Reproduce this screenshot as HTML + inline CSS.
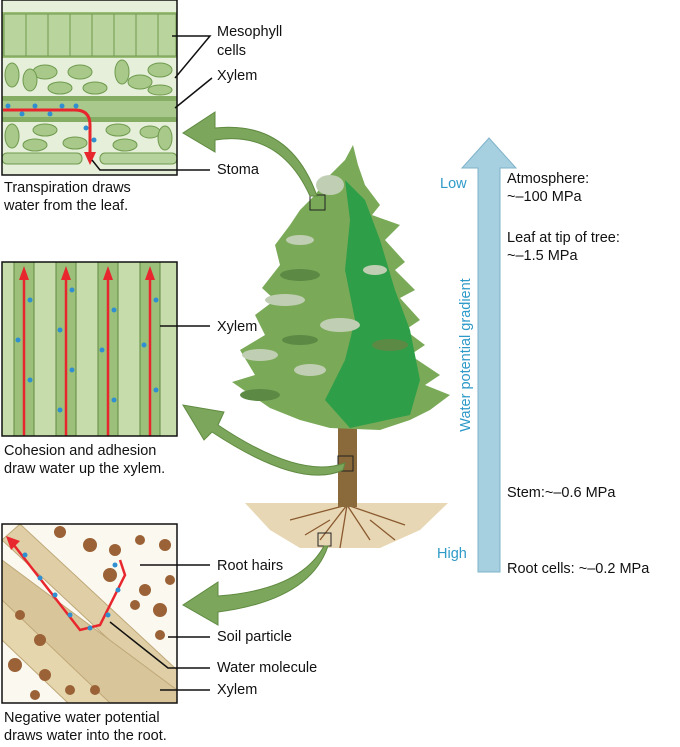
<!DOCTYPE html>
<html><head><style>
body{margin:0;background:#fff}
svg text{font-family:"Liberation Sans",sans-serif;font-size:14.5px;fill:#111}
</style></head><body>
<svg width="680" height="742" viewBox="0 0 680 742" xmlns="http://www.w3.org/2000/svg">
<!-- top panel -->
<rect x="2" y="0" width="175" height="175" fill="#e6efd9"/>
<rect x="2" y="12" width="175" height="46" fill="#9cbf78"/>
<g fill="#b9d49c" stroke="#6f9a4e">
<rect x="4" y="14" width="22" height="42"/><rect x="26" y="14" width="22" height="42"/><rect x="48" y="14" width="22" height="42"/><rect x="70" y="14" width="22" height="42"/><rect x="92" y="14" width="22" height="42"/><rect x="114" y="14" width="22" height="42"/><rect x="136" y="14" width="22" height="42"/><rect x="158" y="14" width="18" height="42"/>
</g>
<g fill="#a8c98a" stroke="#6f9a4e">
<ellipse cx="12" cy="75" rx="7" ry="12"/><ellipse cx="45" cy="72" rx="12" ry="7"/><ellipse cx="80" cy="72" rx="12" ry="7"/><ellipse cx="122" cy="72" rx="7" ry="12"/><ellipse cx="160" cy="70" rx="12" ry="7"/><ellipse cx="30" cy="80" rx="7" ry="11"/><ellipse cx="60" cy="88" rx="12" ry="6"/><ellipse cx="95" cy="88" rx="12" ry="6"/><ellipse cx="140" cy="82" rx="12" ry="7"/><ellipse cx="160" cy="90" rx="12" ry="5"/>
<ellipse cx="12" cy="136" rx="7" ry="12"/><ellipse cx="45" cy="130" rx="12" ry="6"/><ellipse cx="35" cy="145" rx="12" ry="6"/><ellipse cx="75" cy="143" rx="12" ry="6"/><ellipse cx="118" cy="130" rx="12" ry="6"/><ellipse cx="125" cy="145" rx="12" ry="6"/><ellipse cx="150" cy="132" rx="10" ry="6"/><ellipse cx="165" cy="138" rx="7" ry="12"/>
</g>
<rect x="2" y="96" width="175" height="26" fill="#86ad64"/>
<rect x="2" y="101" width="175" height="16" fill="#a9c98c"/>
<g fill="#b6d29d" stroke="#6f9a4e"><rect x="2" y="153" width="80" height="11" rx="5"/><rect x="100" y="153" width="77" height="11" rx="5"/></g>
<path d="M3 110 H75 Q90 110 90 125 V155" stroke="#e8262d" stroke-width="3" fill="none"/>
<path d="M84 152 L90 165 L96 152Z" fill="#e8262d"/>
<g fill="#2f8fd0"><circle cx="8" cy="106" r="2.5"/><circle cx="22" cy="114" r="2.5"/><circle cx="35" cy="106" r="2.5"/><circle cx="50" cy="114" r="2.5"/><circle cx="62" cy="106" r="2.5"/><circle cx="76" cy="106" r="2.5"/><circle cx="86" cy="128" r="2.5"/><circle cx="94" cy="140" r="2.5"/></g>
<rect x="2" y="0" width="175" height="175" fill="none" stroke="#111" stroke-width="1.5"/>
<g stroke="#111" stroke-width="1.5" fill="none"><path d="M172 36 H198 M175 78 L210 36 H198"/><path d="M175 108 L212 78"/><path d="M92 160 L100 170 H210"/></g>
<text x="217" y="36">Mesophyll</text><text x="217" y="55">cells</text><text x="217" y="80">Xylem</text><text x="217" y="174">Stoma</text>
<text x="4" y="192">Transpiration draws</text><text x="4" y="210">water from the leaf.</text>

<!-- middle panel -->
<rect x="2" y="262" width="175" height="174" fill="#c6dcaa"/>
<g fill="#9cc07a" stroke="#5f8a40"><rect x="14" y="262" width="20" height="174"/><rect x="56" y="262" width="20" height="174"/><rect x="98" y="262" width="20" height="174"/><rect x="140" y="262" width="20" height="174"/></g>
<g stroke="#e8262d" stroke-width="2.5"><path d="M24 436 V275"/><path d="M66 436 V275"/><path d="M108 436 V275"/><path d="M150 436 V275"/></g>
<g fill="#e8262d"><path d="M19 280 L24 266 L29 280Z"/><path d="M61 280 L66 266 L71 280Z"/><path d="M103 280 L108 266 L113 280Z"/><path d="M145 280 L150 266 L155 280Z"/></g>
<g fill="#2f8fd0"><circle cx="30" cy="300" r="2.5"/><circle cx="18" cy="340" r="2.5"/><circle cx="30" cy="380" r="2.5"/><circle cx="72" cy="290" r="2.5"/><circle cx="60" cy="330" r="2.5"/><circle cx="72" cy="370" r="2.5"/><circle cx="60" cy="410" r="2.5"/><circle cx="114" cy="310" r="2.5"/><circle cx="102" cy="350" r="2.5"/><circle cx="114" cy="400" r="2.5"/><circle cx="156" cy="300" r="2.5"/><circle cx="144" cy="345" r="2.5"/><circle cx="156" cy="390" r="2.5"/></g>
<rect x="2" y="262" width="175" height="174" fill="none" stroke="#111" stroke-width="1.5"/>
<path d="M160 326 H210" stroke="#111" stroke-width="1.5"/>
<text x="217" y="331">Xylem</text>
<text x="4" y="455">Cohesion and adhesion</text><text x="4" y="473">draw water up the xylem.</text>

<!-- bottom panel -->
<rect x="2" y="524" width="175" height="179" fill="#fbf8f0"/>
<path d="M2 540 L20 524 L177 670 L177 703 Z" fill="#e0cfa6" stroke="#bfa878"/>
<path d="M2 590 L2 640 L68 703 L140 703 Z" fill="#e6d6ae" stroke="#bfa878"/>
<path d="M2 560 L2 600 L110 703 L177 703 L177 690 Z" fill="#d8c59a" stroke="#bfa878"/>
<g fill="#9a6236"><circle cx="60" cy="532" r="6"/><circle cx="90" cy="545" r="7"/><circle cx="115" cy="550" r="6"/><circle cx="140" cy="540" r="5"/><circle cx="165" cy="545" r="6"/><circle cx="110" cy="575" r="7"/><circle cx="145" cy="590" r="6"/><circle cx="160" cy="610" r="7"/><circle cx="135" cy="605" r="5"/><circle cx="160" cy="635" r="5"/><circle cx="20" cy="615" r="5"/><circle cx="40" cy="640" r="6"/><circle cx="15" cy="665" r="7"/><circle cx="45" cy="675" r="6"/><circle cx="35" cy="695" r="5"/><circle cx="70" cy="690" r="5"/><circle cx="95" cy="690" r="5"/><circle cx="170" cy="580" r="5"/></g>
<path d="M10 540 L80 630 L100 625 L125 575 L120 560" stroke="#e8262d" stroke-width="2.5" fill="none"/>
<path d="M6 536 L20 541 L11 550Z" fill="#e8262d"/>
<g fill="#2f8fd0"><circle cx="25" cy="555" r="2.5"/><circle cx="40" cy="578" r="2.5"/><circle cx="55" cy="595" r="2.5"/><circle cx="70" cy="615" r="2.5"/><circle cx="90" cy="628" r="2.5"/><circle cx="108" cy="615" r="2.5"/><circle cx="118" cy="590" r="2.5"/><circle cx="115" cy="565" r="2.5"/></g>
<rect x="2" y="524" width="175" height="179" fill="none" stroke="#111" stroke-width="1.5"/>
<g stroke="#111" stroke-width="1.5" fill="none"><path d="M140 565 H210"/><path d="M168 637 H210"/><path d="M110 622 L168 668 H210"/><path d="M160 690 H210"/></g>
<text x="217" y="570">Root hairs</text><text x="217" y="641">Soil particle</text><text x="217" y="672">Water molecule</text><text x="217" y="694">Xylem</text>
<text x="4" y="722">Negative water potential</text><text x="4" y="740">draws water into the root.</text>

<!-- tree -->
<path d="M245 503 L448 503 L420 530 L380 548 L300 548 L270 530Z" fill="#e8d7b4"/>
<g stroke="#8a5a30" stroke-width="1.3" fill="none"><path d="M347 505 L320 540 M347 505 L340 548 M347 505 L370 540 M347 505 L405 525 M347 505 L290 520 M330 520 L305 535 M370 520 L395 540"/></g>
<rect x="338" y="420" width="19" height="87" fill="#8a6a3a"/>
<path d="M353 145 L358 165 L365 185 L380 205 L372 215 L400 225 L385 240 L405 262 L395 270 L415 290 L400 298 L420 320 L405 330 L425 345 L410 355 L440 375 L425 385 L450 395 L430 410 L410 420 L380 430 L330 428 L300 420 L270 408 L232 382 L255 375 L240 350 L265 335 L255 315 L275 300 L262 288 L280 265 L275 245 L290 225 L300 210 L315 195 L330 175 L345 160Z" fill="#7aaa58"/>
<path d="M345 180 L365 200 L380 240 L395 290 L410 330 L420 380 L410 415 L350 428 L325 400 L345 360 L355 320 L345 270 L350 220Z" fill="#2f9e48"/>
<g fill="#c0cfb3"><ellipse cx="330" cy="185" rx="14" ry="10"/><ellipse cx="285" cy="300" rx="20" ry="6"/><ellipse cx="340" cy="325" rx="20" ry="7"/><ellipse cx="260" cy="355" rx="18" ry="6"/><ellipse cx="310" cy="370" rx="16" ry="6"/><ellipse cx="375" cy="270" rx="12" ry="5"/><ellipse cx="300" cy="240" rx="14" ry="5"/></g>
<g fill="#5c8a44"><ellipse cx="300" cy="275" rx="20" ry="6"/><ellipse cx="390" cy="345" rx="18" ry="6"/><ellipse cx="260" cy="395" rx="20" ry="6"/><ellipse cx="300" cy="340" rx="18" ry="5"/></g>
<g fill="none" stroke="#222" stroke-width="1"><rect x="310" y="195" width="15" height="15"/><rect x="338" y="456" width="15" height="15"/><rect x="318" y="533" width="13" height="13"/></g>
<!-- green arrows -->
<g fill="#7ba65c" stroke="#5f8a40">
<path d="M317 196 Q290 120 215 128 L215 112 L183 133 L215 152 L215 140 Q280 130 310 196Z"/>
<path d="M345 463 Q300 480 218 425 L224 412 L183 405 L204 440 L212 432 Q300 490 343 470Z"/>
<path d="M324 546 Q300 590 218 596 L218 582 L183 605 L218 625 L218 612 Q310 600 328 546Z"/>
</g>
<!-- gradient arrow -->
<path d="M478 572 V168 H462 L489 138 L516 168 H500 V572Z" fill="#a6cfe0" stroke="#7fb3ca"/>
<text x="440" y="188" style="fill:#2e9ac8">Low</text>
<text x="437" y="558" style="fill:#2e9ac8">High</text>
<text transform="translate(470,355) rotate(-90)" text-anchor="middle" style="fill:#2e9ac8">Water potential gradient</text>
<text x="507" y="183">Atmosphere:</text><text x="507" y="201">~–100 MPa</text>
<text x="507" y="242">Leaf at tip of tree:</text><text x="507" y="260">~–1.5 MPa</text>
<text x="507" y="497">Stem:~–0.6 MPa</text>
<text x="507" y="573">Root cells: ~–0.2 MPa</text>
</svg>
</body></html>
